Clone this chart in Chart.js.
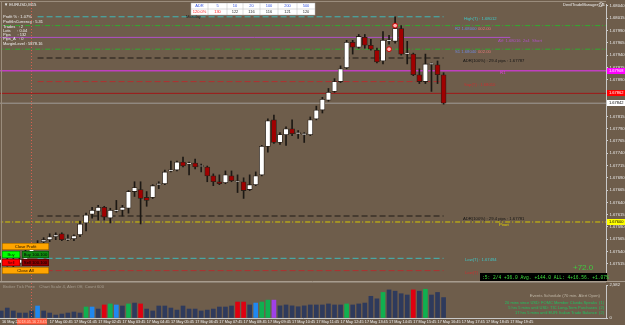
<!DOCTYPE html>
<html>
<head>
<meta charset="utf-8">
<script src="https://cdn.jsdelivr.net/npm/chart.js@4.4.1/dist/chart.umd.min.js"></script>
<style>
html, body { margin: 0; padding: 0; background: #6e5d4b; }
#wrap { position: relative; width: 625px; height: 325px; overflow: hidden; background: #6e5d4b; }
canvas { position: absolute; left: 0; }
#priceChart { top: 0; }
#volChart { top: 281px; }
</style>
</head>
<body>
<div id="wrap">
  <canvas id="priceChart" width="625" height="281"></canvas>
  <canvas id="volChart" width="625" height="44"></canvas>
</div>
<script>
// EURUSD M15 candles
const opens = [1.67516,1.67522,1.67512,1.67516,1.67524,1.67538,1.67548,1.67560,1.67564,1.67570,
  1.67576,1.67564,1.67566,1.67574,1.67598,1.67616,1.67622,1.67630,1.67608,1.67622,
  1.67624,1.67628,1.67662,1.67666,1.67650,1.67650,1.67676,1.67678,1.67704,1.67706,
  1.67722,1.67718,1.67720,1.67713,1.67712,1.67694,1.67682,1.67680,1.67694,1.67682,
  1.67682,1.67666,1.67676,1.67696,1.67754,1.67808,1.67762,1.67778,1.67790,1.67780,
  1.67778,1.67778,1.67810,1.67828,1.67848,1.67866,1.67886,1.67914,1.67966,1.67956,
  1.67976,1.67960,1.67950,1.67928,1.67969,1.67968,1.67994,1.67942,1.67942,1.67900,
  1.67886,1.67921,1.67920,1.67900];
const closes = [1.67524,1.67516,1.67520,1.67524,1.67538,1.67548,1.67556,1.67564,1.67570,1.67574,
  1.67564,1.67565,1.67572,1.67596,1.67614,1.67624,1.67630,1.67610,1.67624,1.67623,
  1.67630,1.67662,1.67670,1.67648,1.67644,1.67674,1.67678,1.67702,1.67706,1.67722,
  1.67714,1.67720,1.67712,1.67714,1.67694,1.67682,1.67678,1.67696,1.67684,1.67683,
  1.67664,1.67676,1.67694,1.67754,1.67806,1.67762,1.67778,1.67790,1.67780,1.67781,
  1.67779,1.67808,1.67828,1.67850,1.67864,1.67886,1.67912,1.67966,1.67956,1.67978,
  1.67960,1.67952,1.67926,1.67970,1.67970,1.67994,1.67942,1.67943,1.67900,1.67886,
  1.67922,1.67922,1.67900,1.67842];
const highs = [1.67530,1.67528,1.67526,1.67530,1.67544,1.67554,1.67562,1.67568,1.67576,1.67578,
  1.67578,1.67574,1.67574,1.67602,1.67618,1.67630,1.67634,1.67632,1.67628,1.67644,
  1.67634,1.67664,1.67682,1.67682,1.67662,1.67676,1.67682,1.67706,1.67724,1.67724,
  1.67732,1.67722,1.67728,1.67718,1.67714,1.67698,1.67696,1.67704,1.67704,1.67696,
  1.67690,1.67696,1.67702,1.67756,1.67810,1.67818,1.67782,1.67794,1.67808,1.67786,
  1.67782,1.67814,1.67836,1.67854,1.67872,1.67892,1.67918,1.67970,1.67970,1.67982,
  1.67982,1.67972,1.67954,1.67988,1.67980,1.68018,1.68000,1.67968,1.67944,1.67912,
  1.67942,1.67924,1.67928,1.67904];
const lows = [1.67508,1.67510,1.67504,1.67512,1.67520,1.67532,1.67544,1.67556,1.67560,1.67564,
  1.67562,1.67562,1.67562,1.67570,1.67582,1.67608,1.67604,1.67604,1.67598,1.67620,
  1.67612,1.67618,1.67652,1.67596,1.67632,1.67648,1.67668,1.67676,1.67702,1.67704,
  1.67712,1.67696,1.67708,1.67702,1.67682,1.67674,1.67676,1.67678,1.67682,1.67660,
  1.67648,1.67664,1.67674,1.67694,1.67742,1.67760,1.67758,1.67756,1.67776,1.67770,
  1.67762,1.67776,1.67808,1.67822,1.67846,1.67864,1.67884,1.67912,1.67942,1.67954,
  1.67954,1.67950,1.67924,1.67922,1.67962,1.67964,1.67940,1.67922,1.67898,1.67882,
  1.67882,1.67866,1.67882,1.67840];
// tick volume per bar and its colour class (n = normal, b = blue, g = green, r = red, p = purple)
const volumes = [550,780,550,390,390,550,940,550,390,230,
  310,390,470,390,860,860,700,1020,1100,1020,
  940,1100,1170,1100,700,550,940,940,780,620,
  940,700,700,550,620,700,860,860,940,1250,
  1250,1020,1170,1250,1400,1400,950,1020,950,880,
  950,1020,1020,1020,1100,1020,1020,1100,1020,1100,
  1170,1700,1500,2000,2200,2100,1900,1800,2200,2100,
  2250,1800,2000,1600];
const volKinds = ['n','n','n','n','n','n','b','n','n','n',
  'n','n','n','n','g','b','n','r','g','b',
  'n','g','n','r','n','n','n','n','n','n',
  'n','n','n','n','n','n','n','n','n','r',
  'r','n','b','g','g','p','n','n','n','n',
  'n','n','n','n','n','n','n','g','n','n',
  'n','n','n','g','n','n','n','n','r','n',
  'g','n','n','n'];
const volMax = 2582;

// price axis labels
const priceTicks = [1.68040,1.68015,1.67990,1.67965,1.67940,1.67915,1.67890,1.67865,1.67840,1.67815,
  1.67790,1.67765,1.67740,1.67715,1.67690,1.67665,1.67640,1.67615,1.67590,1.67565,1.67540,1.67515];
// time axis labels and the bars they sit on
const timeTickBars = [8,12,16,20,24,28,32,36,40,44,48,52,56,60,64,68,72,76,80,84];
const timeTickLabels = ['17 May 00:45','17 May 01:45','17 May 02:45','17 May 03:45','17 May 04:45',
  '17 May 05:45','17 May 06:45','17 May 07:45','17 May 08:45','17 May 09:45','17 May 10:45',
  '17 May 11:45','17 May 12:45','17 May 13:45','17 May 14:45','17 May 15:45','17 May 16:45',
  '17 May 17:45','17 May 18:45','17 May 19:45'];

// horizontal levels drawn by the indicators
const levelNames  = ['highT','r2','avg','r1','adrHi','r1p','supT','open','bid','adrLo','pivot','lowT','lowT2'];
const levelPrices = [1.68018,1.68000,1.67976,1.67952,1.67934,1.67908,1.67886,1.67862,1.67842,1.67612,1.67600,1.67526,1.67501];
const levelFrom   = [6,-1,-1,-1,6,-1,6,-1,-1,6,-1,6,6];
const levelTo     = [73,101,84,101,73,101,73,101,101,73,101,73,73];
// trade entry marks
const tradeBars   = [64,65];
const tradePrices = [1.67952,1.68000];
const sepBar = 4.9;

const X_MIN = -0.2, X_MAX = 99.8;
const FONT = 'Liberation Sans, Arial, sans-serif';
const BG = '#6e5d4b';

const levelStyle = {
  highT: { color: '#3fb8b8', dash: [6, 3], width: 1 },
  r2:    { color: '#2fae2f', dash: [5, 2, 1, 2], width: 1 },
  avg:   { color: '#b050c8', dash: [], width: 1 },
  r1:    { color: '#2fae2f', dash: [5, 2, 1, 2], width: 1 },
  adrHi: { color: '#3a3128', dash: [6, 3], width: 1.5 },
  r1p:   { color: '#c040c0', dash: [], width: 1.5 },
  supT:  { color: '#b03030', dash: [6, 3], width: 1 },
  open:  { color: '#a01818', dash: [], width: 1 },
  bid:   { color: '#a09c98', dash: [], width: 1 },
  adrLo: { color: '#3a3128', dash: [6, 3], width: 1.5 },
  pivot: { color: '#d8c800', dash: [5, 2, 1, 2], width: 1 },
  lowT:  { color: '#3fb8b8', dash: [6, 3], width: 1 },
  lowT2: { color: '#b03030', dash: [6, 3], width: 1 }
};

const idx = opens.map((_, i) => i);

function txt(ctx, s, x, y, color, size, align, family) {
  ctx.font = size + 'px ' + (family || FONT);
  ctx.fillStyle = color;
  ctx.textAlign = align || 'left';
  ctx.textBaseline = 'middle';
  ctx.fillText(s, x, y);
}

function button(ctx, x, y, w, h, fill, label, color) {
  ctx.fillStyle = fill;
  ctx.fillRect(x, y, w, h);
  ctx.strokeStyle = 'rgba(0,0,0,0.5)';
  ctx.lineWidth = 0.5;
  ctx.strokeRect(x + 0.25, y + 0.25, w - 0.5, h - 0.5);
  txt(ctx, label, x + w / 2, y + h / 2 + 0.3, color, 4.2, 'center');
}

const priceOverlay = {
  id: 'priceOverlay',
  beforeDraw(chart) {
    const ctx = chart.ctx;
    ctx.save();
    ctx.fillStyle = BG;
    ctx.fillRect(0, 0, chart.width, chart.height);
    ctx.restore();
  },
  beforeDatasetsDraw(chart) {
    const ctx = chart.ctx;
    const xs = chart.scales.x;
    ctx.save();
    // day separator
    const sx = Math.round(xs.getPixelForValue(sepBar)) + 0.5;
    ctx.strokeStyle = '#d86050';
    ctx.setLineDash([1, 2]);
    ctx.lineWidth = 1;
    ctx.beginPath(); ctx.moveTo(sx, 2); ctx.lineTo(sx, chart.height); ctx.stroke();
    ctx.restore();
  },
  afterDraw(chart) {
    const ctx = chart.ctx;
    const ys = chart.scales.y;
    const py = i => ys.getPixelForValue(levelPrices[i]);
    ctx.save();
    // frame
    ctx.strokeStyle = '#9a8c7c';
    ctx.lineWidth = 1;
    ctx.beginPath(); ctx.moveTo(0, 1.5); ctx.lineTo(606, 1.5); ctx.stroke();
    ctx.beginPath(); ctx.moveTo(1.5, 1); ctx.lineTo(1.5, 281); ctx.stroke();

    // symbol + account info
    txt(ctx, '\u25BC EURUSD,M15', 4, 5, '#f0f0f0', 4.2);
    const info = ['Profit % : 1.07%', 'ProfitInCurrency : 5.31', 'Trades   : 2', 'Lots      : 0.04',
      'Pips      : 132', 'Pips_A   : 0', 'MarginLevel : 5878.16'];
    const infoY = [17, 22, 27, 31, 35, 39, 44];
    info.forEach((s, i) => txt(ctx, s, 3, infoY[i], '#f0f0f0', 4.0));

    // ADR table
    const tx = 191, ty = 3, tw = 124, th = 12;
    ctx.fillStyle = '#ffffff';
    ctx.fillRect(tx, ty, tw, th);
    ctx.strokeStyle = '#b8b8b8'; ctx.lineWidth = 0.5;
    ctx.strokeRect(tx, ty, tw, th);
    const colX = [191, 208, 227, 243, 260, 278, 297, 315];
    for (let c = 1; c < colX.length - 1; c++) {
      ctx.beginPath(); ctx.moveTo(colX[c], ty); ctx.lineTo(colX[c], ty + th); ctx.stroke();
    }
    ctx.beginPath(); ctx.moveTo(tx, ty + th / 2); ctx.lineTo(tx + tw, ty + th / 2); ctx.stroke();
    const head = ['ADR', '5', '10', '20', '100', '200', '500'];
    const row = ['120.0%', '130', '122', '116', '116', '121', '120'];
    for (let c = 0; c < head.length; c++) {
      const cx = (colX[c] + colX[c + 1]) / 2;
      txt(ctx, head[c], cx, ty + 3, '#3050e0', 4.0, 'center');
      txt(ctx, row[c], cx, ty + 9, c < 2 ? '#ff2020' : '#303030', 4.0, 'center');
    }
    txt(ctx, 'Monday', 186, 16.5, '#1a1a1a', 4.2);
    txt(ctx, 'DevilTradeManager_V1', 563, 4.5, '#f0f0f0', 4.0);
    ctx.strokeStyle = '#f0f0f0'; ctx.lineWidth = 0.6;
    ctx.beginPath(); ctx.arc(601, 4.5, 2, 0, Math.PI * 2); ctx.stroke();

    // level captions
    txt(ctx, 'High(T) : 1.68012', 464, py(0) + 2.5, '#3fc8c8', 4.2);
    txt(ctx, 'R2 1.68000', 455, py(1) + 3, '#7088d8', 4.2);
    txt(ctx, '002.00', 478, py(1) + 3, '#e07878', 4.2);
    txt(ctx, 'AV: 1.68016  2x4  Short', 498, py(2) + 3, '#b050c8', 4.2);
    txt(ctx, 'S1 1.68040', 455, py(3) + 3, '#7088d8', 4.2);
    txt(ctx, '002.00', 478, py(3) + 3, '#e07878', 4.2);
    txt(ctx, 'ADR(100%) : 29.4 pips : 1.67787', 463, py(4) + 2.5, '#141414', 4.2);
    txt(ctx, 'R1', 500, py(5) + 2.5, '#e040e0', 4.4);
    txt(ctx, 'Sup(T) : 1.68010', 464, py(6) + 3, '#c83030', 4.2);
    txt(ctx, 'ADR(100%) : 29.4 pips : 1.67781', 463, py(9) + 2.5, '#141414', 4.2);
    txt(ctx, 'Pivot', 499, py(10) + 3, '#e8d800', 4.4);
    txt(ctx, 'Low(T) : 1.67494', 465, py(11) + 2, '#3fc8c8', 4.2);
    txt(ctx, 'Low(T)', 465, py(12) + 2, '#c83030', 4.2);

    // price markers on axis
    const marker = (i, fill, color) => {
      const y = Math.round(py(i));
      ctx.fillStyle = fill;
      ctx.fillRect(607, y - 3, 18, 6);
      txt(ctx, levelPrices[i].toFixed(5), 609, y + 0.3, color, 4.0);
    };
    marker(5, '#ff00ff', '#ffffff');
    marker(7, '#ff0000', '#ffffff');
    marker(8, '#ffffff', '#000000');
    marker(10, '#ffff00', '#000000');

    // trade manager buttons
    button(ctx, 2, 243, 47, 7, '#ffa500', 'Close Profit', '#201000');
    button(ctx, 2, 251, 18, 7, '#00ff00', 'Buy', '#003000');
    button(ctx, 22, 251, 27, 7, '#108a10', 'Buy 100.100', '#000000');
    button(ctx, 2, 259, 18, 7, '#ff0000', 'Sell', '#300000');
    button(ctx, 22, 259, 27, 7, '#8b0000', 'Sell 100.100', '#000000');
    button(ctx, 2, 267, 47, 7, '#ffa500', 'Close All', '#201000');

    // running result
    txt(ctx, '+72.0', 573, 268, '#40c840', 8);
    ctx.fillStyle = '#000000';
    ctx.fillRect(480, 273, 127, 8);
    txt(ctx, ':5: 2/4 +36.0 Avg. +144.0 ALL: 4+16.56. +1.07%', 482, 277.3, '#40e040', 4.6, 'left', 'Liberation Mono, monospace');
    ctx.restore();
  }
};

const volOverlay = {
  id: 'volOverlay',
  beforeDraw(chart) {
    const ctx = chart.ctx;
    ctx.save();
    ctx.fillStyle = BG;
    ctx.fillRect(0, 0, chart.width, chart.height);
    ctx.restore();
  },
  afterDraw(chart) {
    const ctx = chart.ctx;
    const xs = chart.scales.x;
    ctx.save();
    ctx.strokeStyle = '#a89c8e'; ctx.lineWidth = 1;
    ctx.beginPath(); ctx.moveTo(0, 0.5); ctx.lineTo(625, 0.5); ctx.stroke();
    ctx.strokeStyle = '#8a7e70';
    ctx.beginPath(); ctx.moveTo(0, 1.5); ctx.lineTo(606, 1.5); ctx.stroke();
    const sx = Math.round(xs.getPixelForValue(sepBar)) + 0.5;
    ctx.strokeStyle = '#d86050'; ctx.setLineDash([1, 2]);
    ctx.beginPath(); ctx.moveTo(sx, 2); ctx.lineTo(sx, 37); ctx.stroke();
    ctx.setLineDash([]);

    txt(ctx, 'Broker Tick Price    Chart Scale 4, Alert Off, Count 600', 3, 6, '#a89e90', 4.2);
    txt(ctx, 'Events Schedule (70 min. Alert Open)', 600, 15, '#c0b8a8', 4.2, 'right');
    txt(ctx, '20 mins since USD: FOMC Member Clarida Speaks  (1)', 604, 22, '#20c060', 4.0, 'right');
    txt(ctx, '5 hrs 5 mins until USD: TIC Long-Term Purchases  (2)', 604, 27, '#20c060', 4.0, 'right');
    txt(ctx, '17 hrs 5 mins until EUR: Italian Trade Balance  (2)', 604, 32, '#20c060', 4.0, 'right');

    // first-bar date and crosshair time box
    txt(ctx, '16 May 2018', 2, 40.5, '#f0f0f0', 3.8);
    ctx.fillStyle = '#ff5a3c';
    ctx.fillRect(17, 37.5, 30, 6);
    txt(ctx, '2018.05.16 23:45', 32, 40.5, '#ffd0c0', 3.8, 'center');
    ctx.restore();
  }
};

const bodyColors = idx.map(i => closes[i] < opens[i] ? '#a00000' : '#ffffff');

const levelSets = levelNames.map((n, i) => ({
  type: 'line',
  data: [{ x: levelFrom[i], y: levelPrices[i] }, { x: levelTo[i], y: levelPrices[i] }],
  borderColor: levelStyle[n].color,
  borderWidth: levelStyle[n].width,
  borderDash: levelStyle[n].dash,
  pointRadius: 0,
  order: 5
}));

new Chart(document.getElementById('priceChart'), {
  type: 'bar',
  data: {
    datasets: [
      ...levelSets,
      {
        type: 'bar',
        data: idx.map(i => ({ x: i, y: [lows[i], highs[i]] })),
        backgroundColor: '#1c1814',
        barThickness: 1,
        grouped: false,
        order: 3
      },
      {
        type: 'bar',
        data: idx.map(i => ({ x: i, y: [opens[i], closes[i]] })),
        backgroundColor: bodyColors,
        borderColor: '#2a2018',
        borderWidth: 0.8,
        borderSkipped: false,
        barThickness: 5,
        minBarLength: 1,
        grouped: false,
        order: 2
      },
      {
        type: 'line',
        data: tradeBars.map((b, i) => ({ x: b, y: tradePrices[i] })),
        showLine: false,
        pointRadius: 2.4,
        pointBackgroundColor: '#ffb0b0',
        pointBorderColor: '#d00000',
        pointBorderWidth: 1,
        order: 1
      }
    ]
  },
  options: {
    responsive: false,
    animation: false,
    devicePixelRatio: 1,
    layout: { padding: { top: 2, bottom: 1, left: 0, right: 0 }, autoPadding: false },
    plugins: { legend: { display: false }, tooltip: { enabled: false } },
    scales: {
      x: { type: 'linear', min: X_MIN, max: X_MAX, display: false, offset: false },
      y: {
        position: 'right',
        min: 1.67488, max: 1.68044,
        afterBuildTicks(axis) { axis.ticks = priceTicks.map(v => ({ value: v })); },
        afterFit(axis) { axis.width = 19; },
        ticks: { color: '#e8e8e8', font: { size: 4.2, family: FONT }, padding: 1.5, callback: v => v.toFixed(5) },
        grid: { drawOnChartArea: false, tickLength: 2, color: '#d0d0d0' },
        border: { color: '#c8c8c8' }
      }
    }
  },
  plugins: [priceOverlay]
});

const volColorMap = { n: '#2e3a5c', b: '#2088f0', g: '#10b050', r: '#e00010', p: '#a040e8' };

new Chart(document.getElementById('volChart'), {
  type: 'bar',
  data: {
    datasets: [{
      data: idx.map(i => ({ x: i, y: volumes[i] })),
      backgroundColor: idx.map(i => volColorMap[volKinds[i]]),
      barThickness: 4
    }]
  },
  options: {
    responsive: false,
    animation: false,
    devicePixelRatio: 1,
    layout: { padding: { top: 2, bottom: 0, left: 0, right: 0 }, autoPadding: false },
    plugins: { legend: { display: false }, tooltip: { enabled: false } },
    scales: {
      x: {
        type: 'linear', min: X_MIN, max: X_MAX, offset: false,
        afterBuildTicks(axis) { axis.ticks = timeTickBars.map(v => ({ value: v })); },
        afterFit(axis) { axis.height = 7; },
        ticks: {
          color: '#f0f0f0', font: { size: 3.8, family: FONT }, padding: 1, align: 'start', maxRotation: 0,
          autoSkip: false,
          callback: v => timeTickLabels[timeTickBars.indexOf(v)]
        },
        grid: { drawOnChartArea: false, tickLength: 1, color: '#d0d0d0' },
        border: { color: '#c8c8c8' }
      },
      y: {
        position: 'right', min: 0, max: volMax,
        afterBuildTicks(axis) { axis.ticks = [{ value: 0 }, { value: volMax }]; },
        afterFit(axis) { axis.width = 19; },
        ticks: { color: '#e8e8e8', font: { size: 4.2, family: FONT }, padding: 1.5 },
        grid: { drawOnChartArea: false, tickLength: 2, color: '#d0d0d0' },
        border: { color: '#c8c8c8' }
      }
    }
  },
  plugins: [volOverlay]
});
</script>
</body>
</html>
